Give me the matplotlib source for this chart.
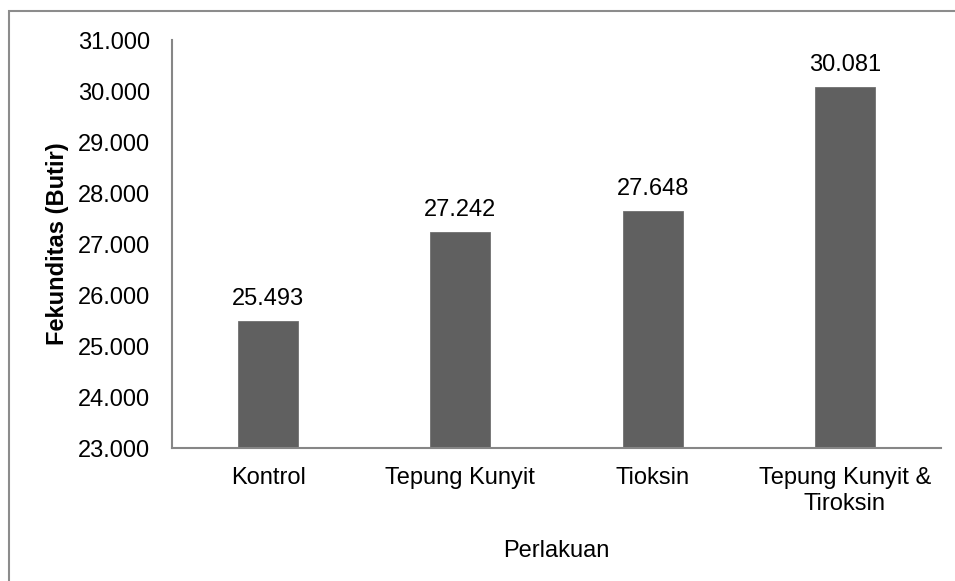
import matplotlib.pyplot as plt
from matplotlib.patches import Rectangle
from matplotlib.ticker import FuncFormatter

plt.rcParams['font.family'] = ['Liberation Sans', 'DejaVu Sans']

perlakuan = ['Kontrol', 'Tepung Kunyit', 'Tioksin', 'Tepung Kunyit &\nTiroksin']
fekunditas = [25493, 27242, 27648, 30081]

def titik(v):
    return f'{int(round(v)):,}'.replace(',', '.')

fig = plt.figure(figsize=(9.55, 5.81), dpi=100)
ax = fig.add_axes([0.1801, 0.2289, 0.8052, 0.7022])

x = range(len(perlakuan))
bars = ax.bar(x, fekunditas, width=0.3125, color='#606060', edgecolor='#707070', linewidth=0.6)

for b, v in zip(bars, fekunditas):
    ax.annotate(titik(v), (b.get_x() + b.get_width() / 2, v),
                xytext=(0, 8), textcoords='offset points',
                ha='center', va='bottom', fontsize=17)

ax.set_xlim(-0.5, len(perlakuan) - 0.5)
ax.set_ylim(23000, 31000)
ax.set_yticks(range(23000, 31001, 1000))
ax.yaxis.set_major_formatter(FuncFormatter(lambda v, p: titik(v)))
ax.set_xticks(list(x))
ax.set_xticklabels(perlakuan, fontsize=17, linespacing=1.2)
ax.tick_params(axis='y', length=0, pad=16, labelsize=17)
ax.tick_params(axis='x', length=0, pad=14)

for s in ['top', 'right']:
    ax.spines[s].set_visible(False)
for s in ['left', 'bottom']:
    ax.spines[s].set_color('#868686')
    ax.spines[s].set_linewidth(1.5)

ax.set_xlabel('Perlakuan', fontsize=17, labelpad=18)
ax.set_ylabel('Fekunditas (Butir)', fontsize=17, fontweight='bold', labelpad=6)

# bingkai luar chart
fig.patches.append(Rectangle((9 / 955, -0.1), 1.2, (581 - 11) / 581 + 0.1,
                             transform=fig.transFigure, fill=False,
                             edgecolor='#8c8c8c', linewidth=1.5))

fig.savefig('out.png', dpi=100)
